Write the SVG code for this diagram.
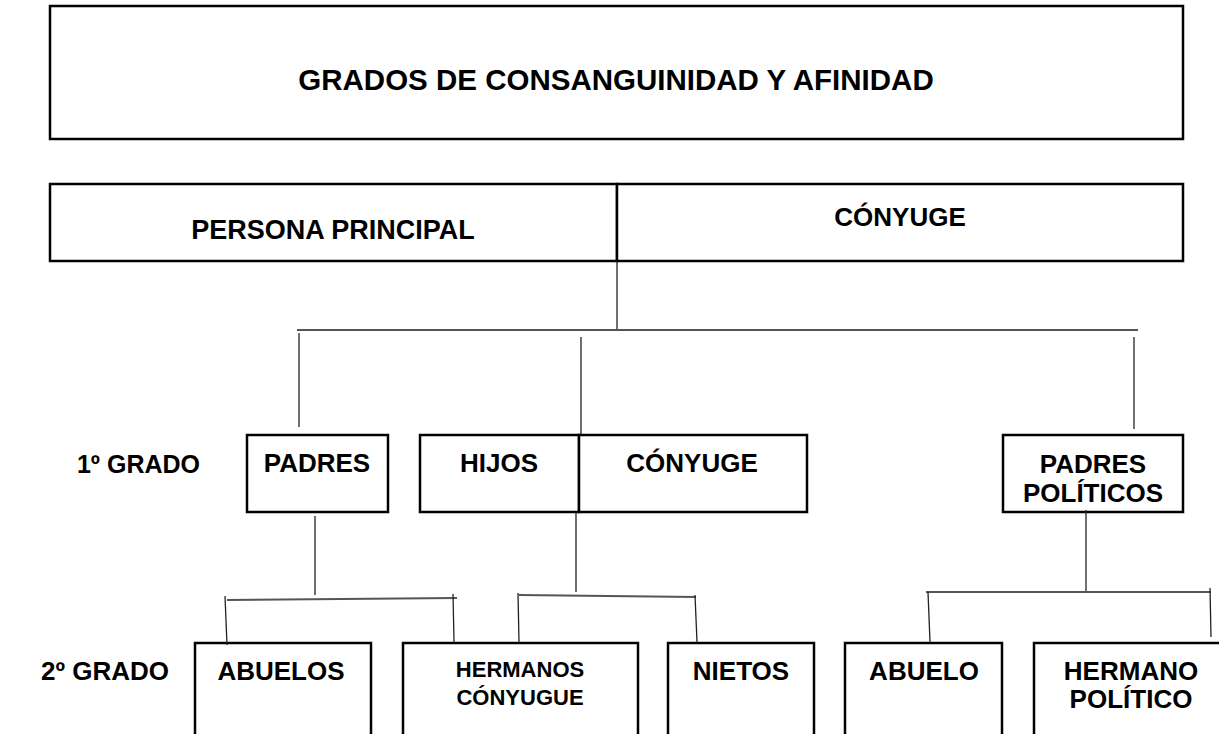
<svg xmlns="http://www.w3.org/2000/svg" width="1219" height="734" viewBox="0 0 1219 734">
<style>
.box{fill:#fff;stroke:#000;stroke-width:2.5}
.t{font-family:"Liberation Sans",Arial,sans-serif;font-weight:bold;font-size:26px;fill:#000;text-anchor:middle}
.e{text-anchor:end;font-size:25px}
.s{font-size:22px}
.h{stroke:#555;stroke-width:2;fill:none}
.v{stroke:#222;stroke-width:1.3;fill:none}
</style>
<rect width="1219" height="734" fill="#fff"/>
<g id="title">
<rect class="box" x="50" y="6" width="1133" height="133"/>
<text class="t" x="616" y="90" style="font-size:29.5px">GRADOS DE CONSANGUINIDAD Y AFINIDAD</text>
</g>
<g id="persona-principal">
<rect class="box" x="50" y="184" width="567" height="77"/>
<text class="t" x="333" y="239" style="font-size:27px">PERSONA PRINCIPAL</text>
</g>
<g id="conyuge">
<rect class="box" x="617" y="184" width="566" height="77"/>
<text class="t" x="900" y="226">CÓNYUGE</text>
</g>
<g id="grado1-label"><text class="t e" x="200" y="473">1º GRADO</text></g>
<g id="grado2-label"><text class="t e" x="169" y="680" style="font-size:26px">2º GRADO</text></g>
<g id="padres">
<rect class="box" x="247" y="435" width="141" height="77"/>
<text class="t" x="317" y="472">PADRES</text>
</g>
<g id="hijos">
<rect class="box" x="420" y="435" width="159" height="77"/>
<text class="t" x="499" y="472">HIJOS</text>
</g>
<g id="conyuge-hijos">
<rect class="box" x="579" y="435" width="228" height="77"/>
<text class="t" x="692" y="472">CÓNYUGE</text>
</g>
<g id="padres-politicos">
<rect class="box" x="1003" y="435" width="180" height="77"/>
<text class="t" x="1093" y="473">PADRES</text>
<text class="t" x="1093" y="502">POLÍTICOS</text>
</g>
<g id="abuelos">
<rect class="box" x="195" y="643" width="176" height="100"/>
<text class="t" x="281" y="680">ABUELOS</text>
</g>
<g id="hermanos-conyugue">
<rect class="box" x="403" y="643" width="235" height="100"/>
<text class="t s" x="520" y="677">HERMANOS</text>
<text class="t s" x="520" y="705">CÓNYUGUE</text>
</g>
<g id="nietos">
<rect class="box" x="668" y="643" width="146" height="100"/>
<text class="t" x="741" y="680">NIETOS</text>
</g>
<g id="abuelo">
<rect class="box" x="845" y="643" width="157" height="100"/>
<text class="t" x="924" y="680">ABUELO</text>
</g>
<g id="hermano-politico">
<rect class="box" x="1034" y="643" width="200" height="100"/>
<text class="t" x="1131" y="680">HERMANO</text>
<text class="t" x="1131" y="708">POLÍTICO</text>
</g>
<g id="connectors">
<line class="v" x1="617" y1="261" x2="617" y2="331"/>
<line class="h" x1="297" y1="330" x2="1138" y2="330"/>
<line class="v" x1="299" y1="333" x2="299" y2="427"/>
<line class="v" x1="581" y1="337" x2="581" y2="434"/>
<line class="v" x1="1134" y1="337" x2="1134" y2="429"/>
<line class="v" x1="315" y1="516" x2="315" y2="595"/>
<line class="h" x1="227" y1="600" x2="457" y2="598"/>
<line class="v" x1="225" y1="596" x2="227" y2="645"/>
<line class="v" x1="453" y1="594" x2="454" y2="642"/>
<line class="v" x1="576" y1="513" x2="576" y2="592"/>
<line class="h" x1="519" y1="595" x2="696" y2="597"/>
<line class="v" x1="518" y1="593" x2="519" y2="642"/>
<line class="v" x1="695" y1="595" x2="697" y2="642"/>
<line class="v" x1="1086" y1="510" x2="1086" y2="591"/>
<line class="h" x1="926" y1="592" x2="1211" y2="592"/>
<line class="v" x1="928" y1="592" x2="930" y2="642"/>
<line class="v" x1="1210" y1="588" x2="1211" y2="637"/>
</g>
</svg>
